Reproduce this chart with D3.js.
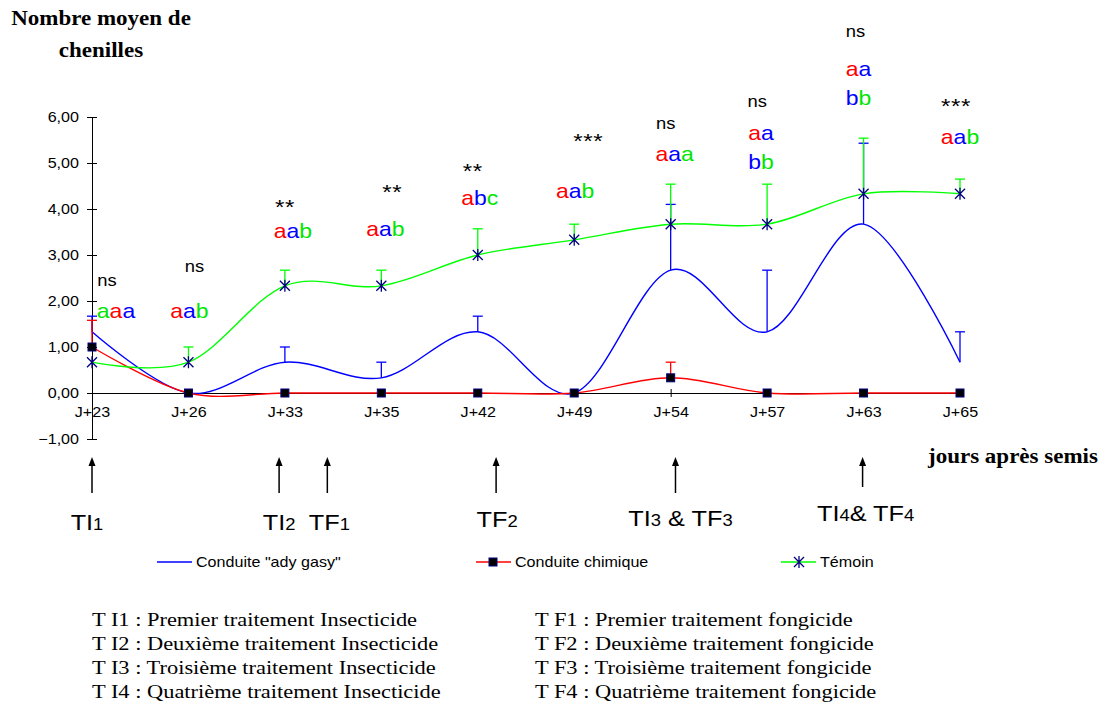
<!DOCTYPE html>
<html>
<head>
<meta charset="utf-8">
<script src="https://cdn.jsdelivr.net/npm/d3@7"></script>
<style>
  body { margin: 0; background: #fff; }
  svg { display: block; }
</style>
</head>
<body>
<div id="chart"></div>
<script>
// ---- data ----
const days = ["J+23", "J+26", "J+33", "J+35", "J+42", "J+49", "J+54", "J+57", "J+63", "J+65"];
const adyMean = [1.33, 0, 0.67, 0.33, 1.33, 0, 2.67, 1.33, 3.67, 0.67];
const adyTop = [1.67, null, 1.0, 0.67, 1.67, null, 4.1, 2.67, 5.43, 1.33];
const chimMean = [1.0, 0, 0, 0, 0, 0, 0.33, 0, 0, 0];
const chimTop = [1.58, null, null, null, null, null, 0.67, null, null, null];
const temMean = [0.67, 0.67, 2.33, 2.33, 3.0, 3.33, 3.67, 3.67, 4.33, 4.33];
const temTop = [null, 1.0, 2.67, 2.67, 3.57, 3.67, 4.54, 4.54, 5.54, 4.65];
const yTicks = [-1, 0, 1, 2, 3, 4, 5, 6];

// significance and letter groups (a = ady gasy, c = chimique, t = témoin)
const signif = ["ns", "ns", "**", "**", "**", "***", "ns", "ns", "ns", "***"];
const letters = ["aaa", "aab", "aab", "aab", "abc", "aab", "aaa", "aa|bb", "aa|bb", "aab"];
const letterKeys = ["tca", "cat", "cat", "cat", "cat", "cat", "cat", "ca|at", "ca|at", "cat"];

// treatments, in category steps from J+23
const treatments = ["TI_1", "TI_2", "TF_1", "TF_2", "TI_3 & TF_3", "TI_4& TF_4"];
const treatPos = [0, 1.94, 2.44, 4.19, 6.05, 7.99];

const legendNames = ['Conduite "ady gasy"', 'Conduite chimique', 'Témoin'];
const notesI = ["T I1 : Premier traitement Insecticide", "T I2 : Deuxième traitement Insecticide",
  "T I3 : Troisième traitement Insecticide", "T I4 : Quatrième traitement Insecticide"];
const notesF = ["T F1 : Premier traitement fongicide", "T F2 : Deuxième traitement fongicide",
  "T F3 : Troisième traitement fongicide", "T F4 : Quatrième traitement fongicide"];

// ---- layout ----
const W = 1109, H = 708;
const SX = 1.15; // the original text is a bit stretched sideways
const SANS = "'Liberation Sans', Arial, sans-serif";
const SERIF = "'Liberation Serif', 'Times New Roman', serif";
const colors = { a: "#0000ff", c: "#ff0000", t: "#00ff00" };
const letterColors = { a: "#0000ff", c: "#ff0000", t: "#00e600" };
const navy = "#000080";

// annotation placement (value units and px offsets)
const sigLevel = [2.32, 2.64, 3.94, 4.27, 4.72, 5.38, 5.73, 6.21, 7.73, 6.12];
const sigDx = [15, 6, 0, 11, -5, 14, -5, -10, -8, -4];
const letterLevel = [1.62, 1.64, 3.36, 3.42, 4.08, 4.23, 5.05, 5.49, 6.90, 5.42];
const letterDx = [24, 1, 8, 4, 2, 1, 4, -6, -5, 0];
const treatDx = [-5, 0, 2, 1, 5, 3];
const treatBase = [530, 530, 530, 527, 526, 521];
const arrowBottom = [493, 493, 493, 493, 493, 487];

const svg = d3.select("#chart").append("svg")
  .attr("width", W)
  .attr("height", H);

const x = d3.scalePoint().domain(days).range([92, 960]);
const xi = d3.scaleLinear().domain([0, days.length - 1]).range([92, 960]);
const y = d3.scaleLinear().domain([-1, 6]).range([439, 117]);

function stext(parent, px, py, size, opts) {
  opts = opts || {};
  const t = parent.append("text")
    .attr("transform", "translate(" + px + "," + py + ") scale(" + SX + ",1)")
    .attr("font-size", size)
    .attr("font-family", opts.family || SANS)
    .attr("text-anchor", opts.anchor || "start")
    .attr("fill", opts.fill || "#000");
  if (opts.weight) t.attr("font-weight", opts.weight);
  return t;
}

// title
stext(svg, 101, 25, 20, { family: SERIF, weight: "bold", anchor: "middle" }).text("Nombre moyen de");
stext(svg, 101, 57, 20, { family: SERIF, weight: "bold", anchor: "middle" }).text("chenilles");
stext(svg, 928, 463, 20, { family: SERIF, weight: "bold" }).text("jours après semis");

// y axis
const yAxis = svg.append("g")
  .attr("transform", "translate(" + x(days[0]) + ",0)")
  .call(d3.axisLeft(y).tickValues(yTicks).tickSizeOuter(0)
    .tickFormat(d => d3.format(".2f")(d).replace(".", ",")));
yAxis.select(".domain").attr("stroke", "#000");
yAxis.selectAll(".tick line").attr("x1", -5).attr("x2", 5).attr("stroke", "#000");
yAxis.selectAll(".tick text")
  .attr("x", 0).attr("dy", "0.35em")
  .attr("transform", "translate(-13,0) scale(" + SX + ",1)")
  .attr("font-size", 14).attr("font-family", SANS).attr("fill", "#000");

// x axis at zero
const xAxis = svg.append("g")
  .attr("transform", "translate(0," + y(0) + ")")
  .call(d3.axisBottom(x).tickSizeOuter(0));
xAxis.select(".domain").attr("stroke", "#000");
xAxis.selectAll(".tick line").attr("y1", -4).attr("y2", 4).attr("stroke", "#000");
xAxis.selectAll(".tick text")
  .attr("y", 0).attr("dy", 0)
  .attr("transform", "translate(0,24) scale(" + SX + ",1)")
  .attr("font-size", 14).attr("font-family", SANS).attr("fill", "#000");

// series
const line = d3.line()
  .x((d, i) => x(days[i]))
  .y(d => y(d))
  .curve(d3.curveCardinal.tension(0));

function errorBars(g, means, tops, color) {
  means.forEach((m, i) => {
    if (tops[i] == null) return;
    const cx = x(days[i]);
    g.append("line").attr("x1", cx).attr("x2", cx).attr("y1", y(m)).attr("y2", y(tops[i]))
      .attr("stroke", color).attr("stroke-width", 1.3);
    g.append("line").attr("x1", cx - 5).attr("x2", cx + 5).attr("y1", y(tops[i])).attr("y2", y(tops[i]))
      .attr("stroke", color).attr("stroke-width", 1.3);
  });
}

function square(g, cx, cy) {
  g.append("rect").attr("x", cx - 4).attr("y", cy - 4).attr("width", 8).attr("height", 8)
    .attr("fill", "#000").attr("stroke", navy).attr("stroke-width", 1);
}

function star(g, cx, cy) {
  const p = "M" + (cx - 5) + "," + (cy - 5) + "L" + (cx + 5) + "," + (cy + 5)
    + "M" + (cx - 5) + "," + (cy + 5) + "L" + (cx + 5) + "," + (cy - 5)
    + "M" + cx + "," + (cy - 6) + "L" + cx + "," + (cy + 6);
  g.append("path").attr("d", p).attr("stroke", navy).attr("stroke-width", 1.3).attr("fill", "none");
}

const gAdy = svg.append("g");
gAdy.append("path").attr("d", line(adyMean)).attr("fill", "none")
  .attr("stroke", colors.a).attr("stroke-width", 1.4);
errorBars(gAdy, adyMean, adyTop, colors.a);

const gChim = svg.append("g");
gChim.append("path").attr("d", line(chimMean)).attr("fill", "none")
  .attr("stroke", colors.c).attr("stroke-width", 1.4);
errorBars(gChim, chimMean, chimTop, colors.c);
chimMean.forEach((m, i) => square(gChim, x(days[i]), y(m)));

const gTem = svg.append("g");
gTem.append("path").attr("d", line(temMean)).attr("fill", "none")
  .attr("stroke", colors.t).attr("stroke-width", 1.4);
errorBars(gTem, temMean, temTop, colors.t);
temMean.forEach((m, i) => star(gTem, x(days[i]), y(m)));

// significance and letters above each date
const gAnn = svg.append("g");
days.forEach((d, i) => {
  const cx = x(d);
  const isStar = signif[i].indexOf("*") >= 0;
  const s = stext(gAnn, cx + sigDx[i], y(sigLevel[i]) + (isStar ? 2 : 0), isStar ? 21 : 16, { anchor: "middle" })
    .text(signif[i]);
  if (isStar) s.attr("letter-spacing", 0.5);
  const rows = letters[i].split("|");
  const keys = letterKeys[i].split("|");
  rows.forEach((row, r) => {
    const t = stext(gAnn, cx + letterDx[i], y(letterLevel[i]) + r * 29, 20, { anchor: "middle" });
    row.split("").forEach((ch, k) => {
      t.append("tspan").attr("fill", letterColors[keys[r][k]]).text(ch);
    });
  });
});

// treatment arrows
const gTr = svg.append("g");
treatments.forEach((lab, i) => {
  const ax = xi(treatPos[i]);
  gTr.append("line").attr("x1", ax).attr("x2", ax).attr("y1", arrowBottom[i]).attr("y2", 464)
    .attr("stroke", "#000").attr("stroke-width", 1.5);
  gTr.append("path")
    .attr("d", "M" + (ax - 3.5) + ",466L" + ax + ",457L" + (ax + 3.5) + ",466Z")
    .attr("fill", "#000");
  const t = stext(gTr, ax + treatDx[i], treatBase[i], 22, { anchor: "middle" });
  lab.split(/_(\d)/).forEach((part, k) => {
    if (!part) return;
    const ts = t.append("tspan").text(part);
    if (k % 2 === 1) ts.attr("font-size", 16);
  });
});

// legend
const gLeg = svg.append("g");
const legX = [157, 476, 781];
legendNames.forEach((name, i) => {
  const lx = legX[i], ly = 562;
  const key = ["a", "c", "t"][i];
  gLeg.append("line").attr("x1", lx).attr("x2", lx + 35).attr("y1", ly).attr("y2", ly)
    .attr("stroke", colors[key]).attr("stroke-width", 1.4);
  if (key === "c") square(gLeg, lx + 17, ly);
  if (key === "t") star(gLeg, lx + 18, ly);
  stext(gLeg, lx + 39, ly + 5, 14).text(name);
});

// notes
const gNotes = svg.append("g");
notesI.forEach((n, i) => stext(gNotes, 92, 626 + i * 24, 19.5, { family: SERIF }).text(n));
notesF.forEach((n, i) => stext(gNotes, 535, 626 + i * 24, 19.5, { family: SERIF }).text(n));
</script>
</body>
</html>
